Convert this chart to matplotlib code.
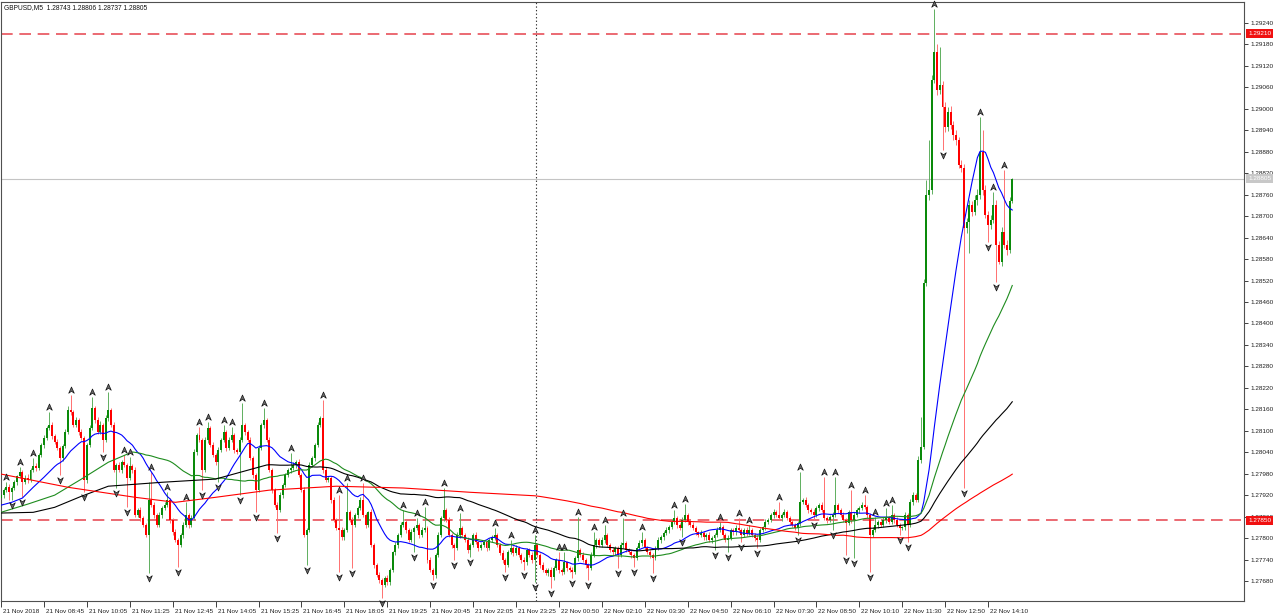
import numpy as np
import pandas as pd
import matplotlib
matplotlib.use("Agg")
import matplotlib.pyplot as plt
from matplotlib.path import Path
from matplotlib.transforms import blended_transform_factory, offset_copy, ScaledTranslation

plt.rcParams['font.family'] = ['Liberation Sans', 'DejaVu Sans']

# ---------------- data (prices stored as points above 1.27000) ----------------
symbol_text = "GBPUSD,M5  1.28743 1.28806 1.28737 1.28805"
base_price = 1.27
first_open = 912

closes = [
    920, 934, 942, 928, 940, 956, 973, 984, 956, 968,
    962, 990, 1001, 996, 1032, 1060, 1080, 1108, 1116, 1085,
    1068, 1052, 1024, 1057, 1096, 1158, 1152, 1116, 1130, 1096,
    1080, 962, 1060, 1108, 1164, 1130, 1096, 1116, 1074, 1136,
    1158, 1116, 990, 1004, 990, 1012, 1004, 968, 1001, 990,
    864, 878, 856, 836, 808, 906, 892, 864, 836, 864,
    884, 892, 906, 850, 816, 794, 780, 808, 836, 864,
    836, 856, 1040, 1088, 1074, 990, 1074, 1108, 1060, 1032,
    1012, 1046, 1074, 1096, 1052, 1074, 1088, 1046, 1040, 1074,
    1116, 1096, 1074, 1024, 976, 934, 1052, 1116, 1130, 1074,
    990, 934, 892, 878, 920, 948, 976, 990, 996, 1004,
    1012, 976, 934, 808, 822, 1004, 1024, 1060, 1116, 1136,
    990, 962, 968, 906, 850, 828, 822, 802, 822, 872,
    850, 836, 864, 884, 906, 864, 836, 872, 780, 724,
    696, 682, 668, 688, 676, 710, 760, 780, 808, 836,
    844, 822, 794, 816, 828, 836, 808, 822, 828, 738,
    710, 696, 752, 808, 856, 878, 850, 808, 780, 772,
    808, 828, 808, 794, 766, 780, 808, 788, 772, 780,
    788, 772, 794, 802, 808, 780, 758, 738, 724, 760,
    772, 758, 772, 752, 738, 732, 766, 752, 738, 780,
    752, 724, 710, 702, 710, 690, 716, 738, 710, 704,
    732, 716, 710, 704, 744, 766, 752, 738, 724, 716,
    752, 780, 794, 780, 794, 808, 780, 766, 760, 772,
    752, 780, 786, 766, 760, 752, 744, 772, 786, 794,
    772, 760, 752, 744, 772, 794, 802, 814, 822, 830,
    844, 856, 836, 828, 850, 864, 844, 836, 828, 816,
    808, 814, 802, 808, 794, 800, 808, 822, 830, 808,
    794, 800, 822, 816, 828, 822, 808, 822, 814, 822,
    808, 800, 794, 822, 830, 844, 850, 864, 872, 864,
    856, 864, 872, 856, 844, 836, 828, 842, 900, 906,
    892, 878, 872, 864, 884, 892, 878, 856, 850, 858,
    864, 892, 878, 864, 850, 842, 872, 850, 864, 878,
    884, 892, 886, 864, 808, 822, 836, 844, 836, 850,
    856, 844, 864, 850, 836, 828, 830, 864, 836, 900,
    920, 906, 1018, 1054, 1514, 1760, 1774, 2082, 2160, 2054,
    2068, 2004, 1948, 1992, 1956, 1928, 1914, 1844, 1836, 1668,
    1684, 1732, 1712, 1746, 1760, 1880, 1774, 1704, 1676, 1690,
    1732, 1620, 1572, 1656, 1620, 1606, 1743, 1805,
]

upper_wick = [
    8, 6, 14, 8, 5, 6, 4, 14, 6, 8,
    10, 6, 23, 8, 5, 6, 8, 4, 36, 8,
    6, 8, 5, 6, 8, 10, 42, 6, 8, 5,
    8, 6, 6, 8, 30, 6, 8, 10, 5, 8,
    50, 6, 8, 5, 8, 6, 20, 6, 25, 5,
    8, 6, 10, 5, 6, 50, 78, 8, 5, 10,
    6, 8, 22, 5, 6, 8, 5, 6, 8, 36,
    6, 8, 10, 5, 22, 6, 8, 16, 5, 8,
    6, 8, 5, 20, 6, 8, 22, 5, 6, 8,
    62, 6, 5, 8, 6, 5, 8, 6, 34, 5,
    8, 6, 5, 8, 10, 6, 5, 5, 42, 8,
    5, 8, 6, 10, 5, 8, 6, 5, 8, 6,
    50, 8, 6, 5, 8, 6, 92, 8, 6, 82,
    6, 8, 5, 6, 8, 48, 6, 5, 8, 6,
    5, 8, 6, 5, 8, 6, 5, 8, 6, 8,
    34, 6, 5, 8, 6, 20, 5, 8, 58, 6,
    8, 5, 6, 8, 5, 62, 6, 8, 5, 6,
    8, 42, 5, 6, 8, 5, 6, 8, 5, 6,
    8, 5, 6, 8, 20, 5, 6, 8, 5, 6,
    22, 5, 8, 6, 5, 8, 6, 5, 8, 28,
    6, 5, 8, 6, 5, 8, 6, 5, 22, 6,
    28, 5, 6, 8, 5, 92, 6, 8, 5, 6,
    8, 36, 5, 6, 8, 28, 6, 5, 8, 6,
    5, 8, 70, 6, 5, 8, 6, 5, 8, 22,
    6, 5, 8, 6, 5, 8, 6, 5, 8, 6,
    8, 22, 6, 5, 8, 31, 6, 5, 8, 6,
    5, 8, 6, 5, 8, 6, 5, 8, 14, 6,
    5, 8, 6, 5, 8, 28, 6, 5, 8, 14,
    6, 5, 8, 6, 5, 8, 6, 5, 8, 6,
    36, 5, 8, 6, 5, 8, 6, 5, 84, 6,
    8, 5, 6, 8, 5, 6, 8, 92, 5, 6,
    8, 78, 5, 6, 8, 5, 6, 62, 8, 6,
    5, 8, 28, 6, 5, 8, 22, 6, 5, 8,
    28, 6, 28, 5, 8, 6, 5, 8, 6, 10,
    8, 6, 12, 84, 10, 40, 140, 12, 118, 20,
    104, 10, 14, 12, 16, 10, 12, 8, 14, 10,
    12, 14, 10, 12, 16, 96, 62, 12, 10, 14,
    36, 12, 10, 14, 174, 12, 10, 1,
]

lower_wick = [
    6, 8, 5, 22, 22, 6, 8, 5, 42, 6,
    8, 5, 6, 8, 5, 6, 8, 5, 6, 8,
    6, 5, 48, 8, 6, 5, 8, 6, 5, 8,
    6, 34, 8, 5, 6, 8, 5, 6, 34, 5,
    8, 6, 5, 50, 6, 8, 5, 82, 6, 8,
    6, 5, 8, 6, 5, 106, 6, 8, 5, 6,
    8, 5, 6, 8, 6, 5, 62, 6, 8, 5,
    8, 6, 5, 8, 6, 56, 5, 8, 6, 5,
    8, 56, 6, 5, 8, 6, 5, 8, 6, 120,
    5, 8, 6, 5, 8, 62, 6, 5, 8, 6,
    5, 8, 6, 64, 5, 8, 6, 5, 8, 6,
    8, 5, 6, 6, 84, 5, 6, 8, 5, 6,
    8, 5, 6, 8, 5, 6, 118, 6, 8, 5,
    6, 120, 5, 8, 6, 5, 8, 6, 5, 8,
    6, 8, 36, 5, 6, 8, 5, 6, 8, 5,
    6, 8, 5, 6, 56, 5, 8, 6, 5, 8,
    6, 14, 8, 5, 6, 8, 5, 6, 8, 34,
    5, 8, 6, 5, 8, 20, 6, 5, 8, 6,
    5, 8, 6, 5, 8, 6, 5, 8, 20, 6,
    5, 8, 6, 5, 8, 22, 6, 5, 8, 62,
    5, 8, 6, 5, 8, 30, 6, 5, 8, 6,
    5, 8, 6, 16, 5, 8, 6, 5, 8, 34,
    6, 5, 8, 6, 5, 8, 6, 5, 8, 6,
    36, 5, 8, 6, 5, 8, 26, 6, 5, 8,
    6, 5, 8, 42, 6, 5, 8, 6, 5, 8,
    6, 5, 8, 6, 26, 5, 8, 6, 5, 8,
    6, 5, 8, 6, 5, 8, 34, 6, 5, 8,
    6, 34, 5, 8, 6, 5, 20, 6, 8, 5,
    6, 8, 22, 5, 6, 8, 5, 6, 8, 5,
    6, 8, 5, 6, 8, 5, 6, 20, 8, 6,
    5, 8, 6, 14, 5, 8, 6, 5, 8, 6,
    36, 5, 8, 6, 5, 90, 6, 8, 106, 5,
    8, 6, 5, 8, 104, 6, 5, 8, 6, 5,
    8, 6, 5, 8, 6, 20, 5, 8, 48, 6,
    8, 6, 5, 8, 6, 10, 14, 12, 10, 16,
    12, 118, 14, 10, 12, 16, 14, 10, 12, 728,
    14, 86, 12, 10, 14, 12, 16, 10, 48, 12,
    10, 104, 6, 12, 10, 14, 10, 6,
]

fractal_up = [2, 7, 12, 18, 26, 34, 40, 46, 48, 56, 62, 69, 74, 77, 83, 86, 90, 98,
              108, 120, 126, 129, 135, 150, 155, 158, 165, 171, 184, 190, 199, 208,
              210, 215, 221, 225, 232, 239, 251, 255, 268, 275, 279, 290, 298, 307,
              311, 317, 322, 326, 330, 332, 348, 365, 370, 374]
fractal_down = [4, 8, 22, 31, 38, 43, 47, 55, 66, 75, 81, 89, 95, 103, 114, 126, 131,
                142, 154, 161, 169, 175, 188, 195, 199, 205, 213, 219, 230, 236, 243,
                254, 266, 271, 276, 282, 297, 303, 310, 315, 318, 324, 335, 338, 351,
                359, 368, 371]

# moving averages: periods and readings of the lines where the window is incomplete
ma_periods = [21, 50, 100, 200]
ma_colors = ['#0000FF', '#1E8C1E', '#000000', '#FF0000']
ma_head_bars = [
    [0, 4, 8, 12, 16],
    [0, 10, 20, 30, 40],
    [0, 12, 20, 30, 40, 60, 80],
    [0, 25, 50, 65, 80, 100, 125, 150, 175],
]
ma_head_vals = [
    [892, 900, 912, 942, 970],
    [872, 895, 920, 965, 1012],
    [870, 872, 886, 917, 945, 956, 965],
    [979, 942, 914, 900, 914, 934, 945, 940, 928],
]

x_labels = ["21 Nov 2018", "21 Nov 08:45", "21 Nov 10:05", "21 Nov 11:25", "21 Nov 12:45",
            "21 Nov 14:05", "21 Nov 15:25", "21 Nov 16:45", "21 Nov 18:05", "21 Nov 19:25",
            "21 Nov 20:45", "21 Nov 22:05", "21 Nov 23:25", "22 Nov 00:50", "22 Nov 02:10",
            "22 Nov 03:30", "22 Nov 04:50", "22 Nov 06:10", "22 Nov 07:30", "22 Nov 08:50",
            "22 Nov 10:10", "22 Nov 11:30", "22 Nov 12:50", "22 Nov 14:10"]
x_label_step = 16
y_tick_labels = ["1.27680", "1.27740", "1.27800", "1.27860", "1.27920", "1.27980", "1.28040",
                 "1.28100", "1.28160", "1.28220", "1.28280", "1.28340", "1.28400", "1.28460",
                 "1.28520", "1.28580", "1.28640", "1.28700", "1.28760", "1.28820", "1.28880",
                 "1.28940", "1.29000", "1.29060", "1.29120", "1.29180", "1.29240"]
level_lines = [1.29210, 1.27850]
current_price = 1.28805
day_separator_bar = 199.5

# ---------------- derived ----------------
c = base_price + np.array(closes) / 1e5
o = np.r_[base_price + first_open / 1e5, c[:-1]]
hi = np.maximum(o, c) + np.array(upper_wick) / 1e5
lo = np.minimum(o, c) - np.array(lower_wick) / 1e5
n = len(c)
idx = np.arange(n)

# ---------------- figure ----------------
W, H = 1280, 616
fig = plt.figure(figsize=(W / 100, H / 100), dpi=100)
ax_left, ax_right, ax_top, ax_bottom = 1, 1244, 2, 601
ax = fig.add_axes([ax_left / W, (H - ax_bottom) / H, (ax_right - ax_left) / W, (ax_bottom - ax_top) / H])
ax.set_facecolor('white')

ax.set_xlim(0.3, 463.4)
ax.set_ylim(1.276241, 1.292987)

# reference lines
ax.axhline(current_price, color='#C4C4C4', lw=0.8, zorder=1)
for lv in level_lines:
    ax.axhline(lv, color='#E8505A', lw=1.2, dashes=(7, 4), zorder=1)
ax.axvline(day_separator_bar, color='#333333', lw=0.8, dashes=(1.2, 2.0), zorder=1)

# candles
bull = c >= o
wick_col = np.where(bull, '#5FAF5F', '#FF7070')
ax.vlines(idx, lo, hi, colors=wick_col, lw=0.7, zorder=2)
body_bottom = np.minimum(o, c)
body_h = np.maximum(np.abs(c - o), 1.5e-5)
body_col = np.where(bull, '#0A8A0A', '#FF0000')
ax.bar(idx, body_h, bottom=body_bottom, width=0.74, color=body_col, linewidth=0, zorder=3)

# moving averages
cs = pd.Series(c)
for p, col, hb, hv in zip(ma_periods, ma_colors, ma_head_bars, ma_head_vals):
    sma = cs.rolling(p).mean().to_numpy()
    xs = list(hb) + list(range(p - 1, n))
    ys = list(base_price + np.array(hv) / 1e5) + list(sma[p - 1:])
    ax.plot(xs, ys, color=col, lw=0.8, zorder=4)

# fractal arrows
up_path = Path([(0, 1), (0.8, -0.8), (0, -0.2), (-0.8, -0.8), (0, 1)],
               [Path.MOVETO, Path.LINETO, Path.LINETO, Path.LINETO, Path.CLOSEPOLY])
dn_path = Path([(0, -1), (0.8, 0.8), (0, 0.2), (-0.8, 0.8), (0, -1)],
               [Path.MOVETO, Path.LINETO, Path.LINETO, Path.LINETO, Path.CLOSEPOLY])
tr_up = offset_copy(ax.transData, fig=fig, x=0, y=5, units='dots')
tr_dn = offset_copy(ax.transData, fig=fig, x=0, y=-5, units='dots')
fu = np.array(fractal_up)
fd = np.array(fractal_down)
ax.plot(fu, hi[fu], linestyle='none', marker=up_path, ms=5, mfc='#6A6A6A', mec='#111111',
        mew=0.5, transform=tr_up, zorder=5, clip_on=False)
ax.plot(fd, lo[fd], linestyle='none', marker=dn_path, ms=5, mfc='#6A6A6A', mec='#111111',
        mew=0.5, transform=tr_dn, zorder=5, clip_on=False)

# axes styling
for s in ax.spines.values():
    s.set_color('#505050')
    s.set_linewidth(0.8)

yt = [float(t) for t in y_tick_labels]
ax.yaxis.tick_right()
ax.set_yticks(yt)
ax.set_yticklabels(y_tick_labels)
ax.tick_params(axis='y', direction='out', length=3, width=0.6, pad=1.5, labelsize=4.6,
               colors='#202020')

xt = [i * x_label_step for i in range(len(x_labels))]
ax.set_xticks(xt)
ax.set_xticklabels(x_labels, ha='left')
ax.tick_params(axis='x', direction='out', length=4, width=0.6, pad=1.5, labelsize=4.6,
               colors='#202020')
shift = ScaledTranslation(2 / 100, 0, fig.dpi_scale_trans)
for lbl in ax.get_xticklabels():
    lbl.set_transform(lbl.get_transform() + shift)

# price boxes on the right scale
blend = blended_transform_factory(ax.transAxes, ax.transData)
bx = 1 + 4 / (ax_right - ax_left)
for lv in level_lines:
    ax.text(bx, lv, f"{lv:.5f}", transform=blend, ha='left', va='center', fontsize=4.6,
            color='white', zorder=10, clip_on=False,
            bbox=dict(boxstyle='square,pad=0.3', fc='#F01010', ec='none'))
ax.text(bx, current_price, f"{current_price:.5f}", transform=blend, ha='left', va='center',
        fontsize=4.6, color='white', zorder=10, clip_on=False,
        bbox=dict(boxstyle='square,pad=0.3', fc='#C8C8C8', ec='none'))

# symbol header
fig.text(4 / W, 1 - 7.5 / H, symbol_text, fontsize=4.8, ha='left', va='center', color='#101010')

fig.savefig('out.png', dpi=100)
